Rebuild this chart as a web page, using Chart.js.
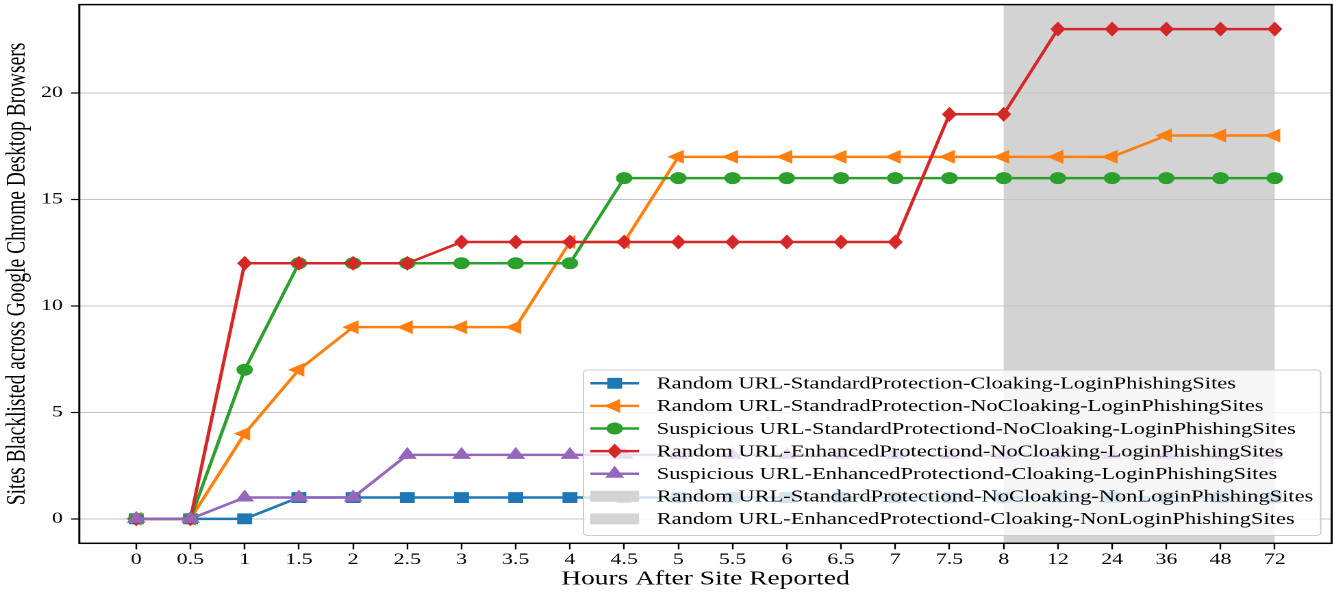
<!DOCTYPE html>
<html>
<head>
<meta charset="utf-8">
<title>Sites Blacklisted across Google Chrome Desktop Browsers</title>
<script src="https://cdn.jsdelivr.net/npm/chart.js@4/dist/chart.umd.min.js"></script>
<style>
  html, body { margin: 0; padding: 0; background: #fff; overflow: hidden; }
  /* the reference is stretched sideways, so the chart is drawn narrow and scaled */
  #wrap { width: 974px; height: 599px; transform: scaleX(1.36961); transform-origin: 0 0; }
</style>
</head>
<body>
<div id="wrap"><canvas id="chart"></canvas></div>
<script>
var hours = ['0', '0.5', '1', '1.5', '2', '2.5', '3', '3.5', '4', '4.5', '5', '5.5',
             '6', '6.5', '7', '7.5', '8', '12', '24', '36', '48', '72'];
var yTicks = [0, 5, 10, 15, 20];

var randStdCloak    = [0, 0, 0, 1, 1, 1, 1, 1, 1, 1, 1, 1, 1, 1, 1, 1, 1, 1, 1, 1, 1, 1];
var randStdNoCloak  = [0, 0, 4, 7, 9, 9, 9, 9, 13, 13, 17, 17, 17, 17, 17, 17, 17, 17, 17, 18, 18, 18];
var suspStdNoCloak  = [0, 0, 7, 12, 12, 12, 12, 12, 12, 16, 16, 16, 16, 16, 16, 16, 16, 16, 16, 16, 16, 16];
var randEnhNoCloak  = [0, 0, 12, 12, 12, 12, 13, 13, 13, 13, 13, 13, 13, 13, 13, 19, 19, 23, 23, 23, 23, 23];
var suspEnhCloak    = [0, 0, 1, 1, 1, 3, 3, 3, 3, 3, 3, 3, 3, 3, 3, 3, 3, 3, 3, 3, 3, 3];

// shaded hours (index range on the x axis)
var spanFrom = '8';
var spanTo = '72';

var lineLabels = [
    'Random URL-StandardProtection-Cloaking-LoginPhishingSites',
    'Random URL-StandradProtection-NoCloaking-LoginPhishingSites',
    'Suspicious URL-StandardProtectiond-NoCloaking-LoginPhishingSites',
    'Random URL-EnhancedProtectiond-NoCloaking-LoginPhishingSites',
    'Suspicious URL-EnhancedProtectiond-Cloaking-LoginPhishingSites'
];
var spanLabels = [
    'Random URL-StandardProtectiond-NoCloaking-NonLoginPhishingSites',
    'Random URL-EnhancedProtectiond-Cloaking-NonLoginPhishingSites'
];

var colors = {
    blue:   '#1f77b4',
    orange: '#ff7f0e',
    green:  '#2ca02c',
    red:    '#d62728',
    purple: '#9467bd',
    span:   '#d3d3d3'
};
var FONT = "'Liberation Serif', 'DejaVu Serif', serif";

function toPoints(values) {
    return values.map(function (v, i) { return {x: i, y: v}; });
}

// thin diamond marker, matplotlib style 'd'
function makeDiamond(done) {
    var k = 3, w = 11, h = 15;
    var c = document.createElement('canvas');
    c.width = w * k; c.height = h * k;
    var g = c.getContext('2d');
    g.fillStyle = colors.red;
    g.beginPath();
    g.moveTo(w * k / 2, 0);
    g.lineTo(w * k, h * k / 2);
    g.lineTo(w * k / 2, h * k);
    g.lineTo(0, h * k / 2);
    g.closePath();
    g.fill();
    var img = new Image(w, h);
    img.onload = function () { done(img); };
    img.src = c.toDataURL();
}

var spanPlugin = {
    id: 'span',
    beforeDraw: function (chart) {
        var area = chart.chartArea, x = chart.scales.x, ctx = chart.ctx;
        var x0 = x.getPixelForValue(hours.indexOf(spanFrom));
        var x1 = x.getPixelForValue(hours.indexOf(spanTo));
        ctx.save();
        ctx.fillStyle = colors.span;
        ctx.fillRect(x0, area.top, x1 - x0, area.bottom - area.top);
        ctx.restore();
    }
};

var framePlugin = {
    id: 'frame',
    afterDatasetsDraw: function (chart) {
        var a = chart.chartArea, ctx = chart.ctx;
        ctx.save();
        ctx.strokeStyle = '#000';
        ctx.lineWidth = 1.5;
        ctx.strokeRect(a.left, a.top, a.right - a.left, a.bottom - a.top);

        ctx.fillStyle = '#000';
        ctx.textAlign = 'center';
        ctx.textBaseline = 'middle';
        ctx.font = '20px ' + FONT;
        ctx.fillText('Hours After Site Reported', (a.left + a.right) / 2, 579);

        ctx.translate(13, (a.top + a.bottom) / 2);
        ctx.rotate(-Math.PI / 2);
        ctx.font = '19.5px ' + FONT;
        ctx.fillText('Sites Blacklisted across Google Chrome Desktop Browsers', 0, 0);
        ctx.restore();
    }
};

var legendPlugin = {
    id: 'boxLegend',
    afterDraw: function (chart) {
        var ctx = chart.ctx;
        var left = 426, top = 370, right = 964.3, bottom = 535.5;
        var rowY = 383.3, rowStep = 22.6;
        ctx.save();
        ctx.beginPath();
        ctx.roundRect(left, top, right - left, bottom - top, 3);
        ctx.fillStyle = 'rgba(255,255,255,0.8)';
        ctx.fill();
        ctx.strokeStyle = '#cccccc';
        ctx.lineWidth = 1;
        ctx.stroke();

        ctx.font = '16.4px ' + FONT;
        ctx.textBaseline = 'middle';
        ctx.textAlign = 'left';

        lineLabels.forEach(function (label, i) {
            var ds = chart.data.datasets[i];
            var y = rowY + i * rowStep;
            ctx.strokeStyle = ds.borderColor;
            ctx.lineWidth = ds.borderWidth;
            ctx.beginPath();
            ctx.moveTo(431, y);
            ctx.lineTo(466.6, y);
            ctx.stroke();
            ctx.fillStyle = ds.pointBackgroundColor;
            ctx.strokeStyle = ds.pointBorderColor;
            ctx.lineWidth = ds.pointBorderWidth;
            Chart.helpers.drawPoint(ctx, {
                pointStyle: ds.pointStyle,
                radius: ds.pointRadius,
                rotation: ds.pointRotation || 0,
                borderWidth: ds.pointBorderWidth
            }, 448.8, y);
            ctx.fillStyle = '#000';
            ctx.fillText(label, 479.5, y + 1);
        });

        spanLabels.forEach(function (label, j) {
            var y = rowY + (lineLabels.length + j) * rowStep;
            ctx.fillStyle = colors.span;
            ctx.fillRect(431, y - 5.5, 35.6, 11);
            ctx.fillStyle = '#000';
            ctx.fillText(label, 479.5, y + 1);
        });
        ctx.restore();
    }
};

function series(label, values, color, style, radius, order, rotation) {
    return {
        label: label,
        data: toPoints(values),
        borderColor: color,
        backgroundColor: color,
        borderWidth: 2.5,
        pointStyle: style,
        pointRadius: radius,
        pointRotation: rotation || 0,
        pointBackgroundColor: color,
        pointBorderColor: color,
        pointBorderWidth: 1,
        order: order,
        tension: 0
    };
}

makeDiamond(function (diamond) {
    new Chart(document.getElementById('chart'), {
        type: 'line',
        data: {
            datasets: [
                series(lineLabels[0], randStdCloak, colors.blue, 'rect', 7, 5),
                series(lineLabels[1], randStdNoCloak, colors.orange, 'triangle', 7, 4, -90),
                series(lineLabels[2], suspStdNoCloak, colors.green, 'circle', 5.5, 3),
                series(lineLabels[3], randEnhNoCloak, colors.red, diamond, 7, 2),
                series(lineLabels[4], suspEnhCloak, colors.purple, 'triangle', 7, 1)
            ]
        },
        options: {
            responsive: true,
            maintainAspectRatio: false,
            devicePixelRatio: 2,
            animation: false,
            layout: {autoPadding: false, padding: {left: 0, right: 1.7, top: 4.6, bottom: 0}},
            plugins: {legend: {display: false}, tooltip: {enabled: false}},
            scales: {
                x: {
                    type: 'linear',
                    min: -1.05,
                    max: 22.05,
                    afterFit: function (s) {
                        s.height = 55.7;
                        s.paddingLeft = 0;
                        s.paddingRight = 0;
                    },
                    afterBuildTicks: function (s) {
                        s.ticks = hours.map(function (h, i) { return {value: i}; });
                    },
                    ticks: {
                        autoSkip: false,
                        maxRotation: 0,
                        padding: 1,
                        color: '#000',
                        font: {family: FONT, size: 16},
                        callback: function (v) { return hours[v]; }
                    },
                    grid: {drawOnChartArea: false, drawTicks: true, tickLength: 6, tickColor: '#000', tickWidth: 1.2},
                    border: {display: false}
                },
                y: {
                    type: 'linear',
                    min: -1.15,
                    max: 24.15,
                    afterFit: function (s) {
                        s.width = 57.9;
                        s.paddingTop = 0;
                        s.paddingBottom = 0;
                    },
                    afterBuildTicks: function (s) {
                        s.ticks = yTicks.map(function (v) { return {value: v}; });
                    },
                    ticks: {
                        padding: 6,
                        color: '#000',
                        font: {family: FONT, size: 16}
                    },
                    grid: {color: '#c4c4c4', lineWidth: 1, tickLength: 6, tickColor: '#000', tickWidth: 1.2},
                    border: {display: false}
                }
            }
        },
        plugins: [spanPlugin, framePlugin, legendPlugin]
    });
});
</script>
</body>
</html>
